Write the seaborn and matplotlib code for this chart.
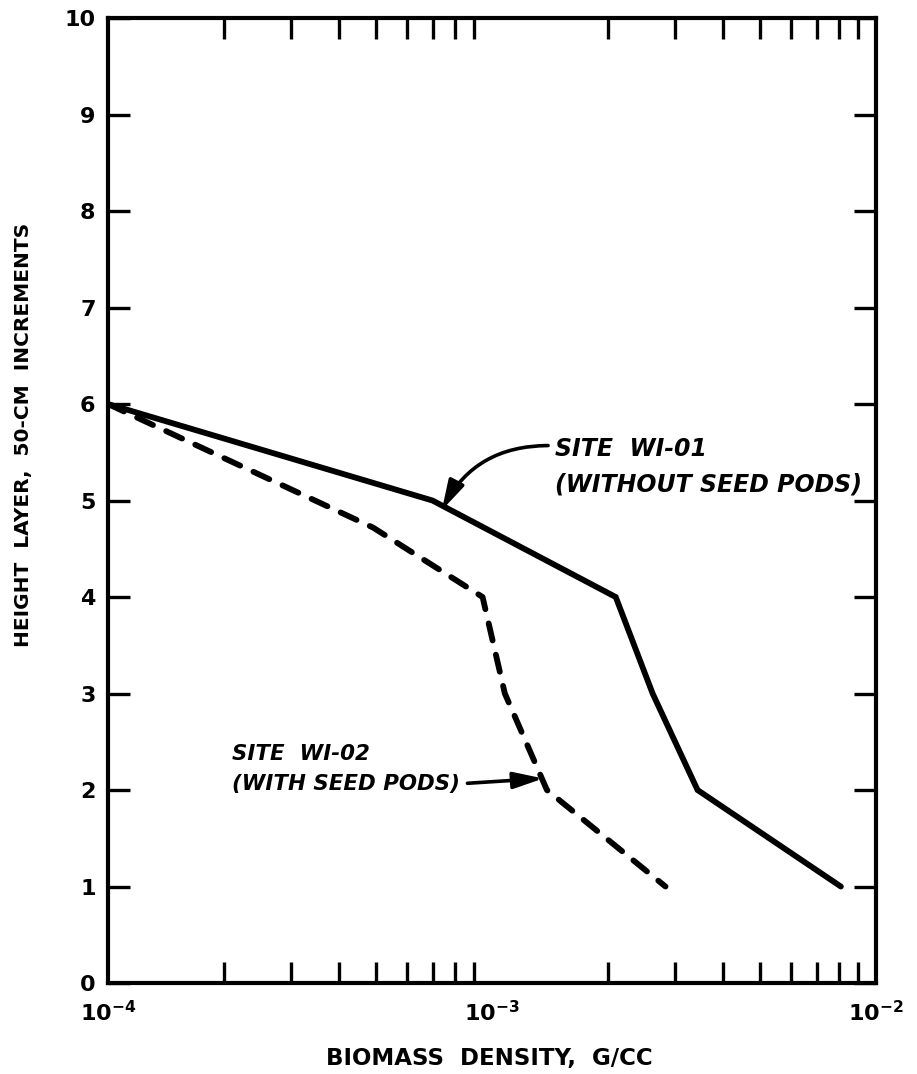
import numpy as np
import pandas as pd
import matplotlib
matplotlib.use("Agg")
import matplotlib.pyplot as plt
from matplotlib.ticker import LogLocator, FixedLocator, NullFormatter, FixedFormatter
import seaborn as sns

# Biomass density profiles by height layer (50-cm increments)
heights = [6, 5, 4, 3, 2, 1]
density_wi01 = [1.0e-4, 7.0e-4, 2.1e-3, 2.62e-3, 3.43e-3, 8.1e-3]

heights_wi02 = [6, 4.72, 4, 3, 2, 1]
density_wi02 = [1.0e-4, 4.9e-4, 9.45e-4, 1.08e-3, 1.39e-3, 2.83e-3]

x_ticks = [1e-4, 1e-3, 1e-2]
x_tick_labels = [r"$\mathbf{10^{-4}}$", r"$\mathbf{10^{-3}}$", r"$\mathbf{10^{-2}}$"]
y_ticks = list(range(0, 11))

sns.set_theme(style="ticks")
plt.rcParams["font.family"] = ["DejaVu Sans"]
plt.rcParams["mathtext.fontset"] = "dejavusans"
plt.rcParams["text.color"] = "black"
plt.rcParams["axes.labelcolor"] = "black"
plt.rcParams["xtick.color"] = "black"
plt.rcParams["ytick.color"] = "black"

df1 = pd.DataFrame({"density": density_wi01, "height": heights, "site": "WI-01"})
df2 = pd.DataFrame({"density": density_wi02, "height": heights_wi02, "site": "WI-02"})

fig = plt.figure(figsize=(9.17, 10.74), dpi=100)
ax = fig.add_axes([0.1178, 0.0847, 0.8375, 0.8985])

sns.lineplot(data=df1, x="density", y="height", sort=False, estimator=None,
             color="black", lw=4.2, ax=ax, solid_joinstyle="miter")
sns.lineplot(data=df2, x="density", y="height", sort=False, estimator=None,
             color="black", lw=4.2, ax=ax)
ax.lines[1].set_dashes([3.0, 2.5])
ax.lines[1].set_dash_capstyle("round")

ax.set_xscale("log")
ax.set_xlim(1e-4, 1e-2)
ax.set_ylim(0, 10)

# ticks on all four sides, pointing inward
ax.xaxis.set_major_locator(FixedLocator(x_ticks))
ax.xaxis.set_major_formatter(FixedFormatter(x_tick_labels))
ax.xaxis.set_minor_locator(LogLocator(base=10, subs=np.arange(2, 10)))
ax.xaxis.set_minor_formatter(NullFormatter())
ax.set_yticks(y_ticks)
ax.set_yticklabels([str(v) for v in y_ticks])

ax.tick_params(axis="x", which="both", direction="in", top=True, bottom=True,
               length=15, width=2.4, pad=12, labelsize=16, colors="black")
ax.tick_params(axis="x", which="major", length=0)
ax.tick_params(axis="y", which="major", direction="in", left=True, right=True,
               length=16, width=2.4, pad=9, labelsize=16, colors="black")
for lbl in ax.get_yticklabels():
    lbl.set_fontweight("bold")

for s in ax.spines.values():
    s.set_linewidth(3)
    s.set_color("black")

ax.set_xlabel("BIOMASS  DENSITY,  G/CC", fontsize=16.5, fontweight="bold")
ax.xaxis.set_label_coords(0.496, -0.066)
ax.set_ylabel("HEIGHT  LAYER,  50-CM  INCREMENTS", fontsize=14.5,
              fontweight="bold")
ax.yaxis.set_label_coords(-0.098, 0.568)

# site annotations
ax.text(0.582, 0.535, "SITE  WI-01\n(WITHOUT SEED PODS)", transform=ax.transAxes,
        fontsize=17, fontweight="bold", fontstyle="italic", ha="left",
        va="center", linespacing=1.65)
ax.annotate("", xy=(7.4e-4, 4.9), xytext=(0.573, 0.557),
            textcoords="axes fraction",
            arrowprops=dict(arrowstyle="-|>,head_length=0.9,head_width=0.25",
                            connectionstyle="arc3,rad=0.3", color="black",
                            lw=2.6, mutation_scale=20, shrinkA=0, shrinkB=0))

ax.text(0.161, 0.222, "SITE  WI-02\n(WITH SEED PODS)", transform=ax.transAxes,
        fontsize=15.4, fontweight="bold", fontstyle="italic", ha="left",
        va="center", linespacing=1.6)
ax.annotate("", xy=(1.36e-3, 2.12), xytext=(0.468, 0.207),
            textcoords="axes fraction",
            arrowprops=dict(arrowstyle="-|>,head_length=0.9,head_width=0.25",
                            color="black", lw=2.6, mutation_scale=20,
                            shrinkA=0, shrinkB=0))

fig.savefig("out.png", dpi=100, facecolor="white")
